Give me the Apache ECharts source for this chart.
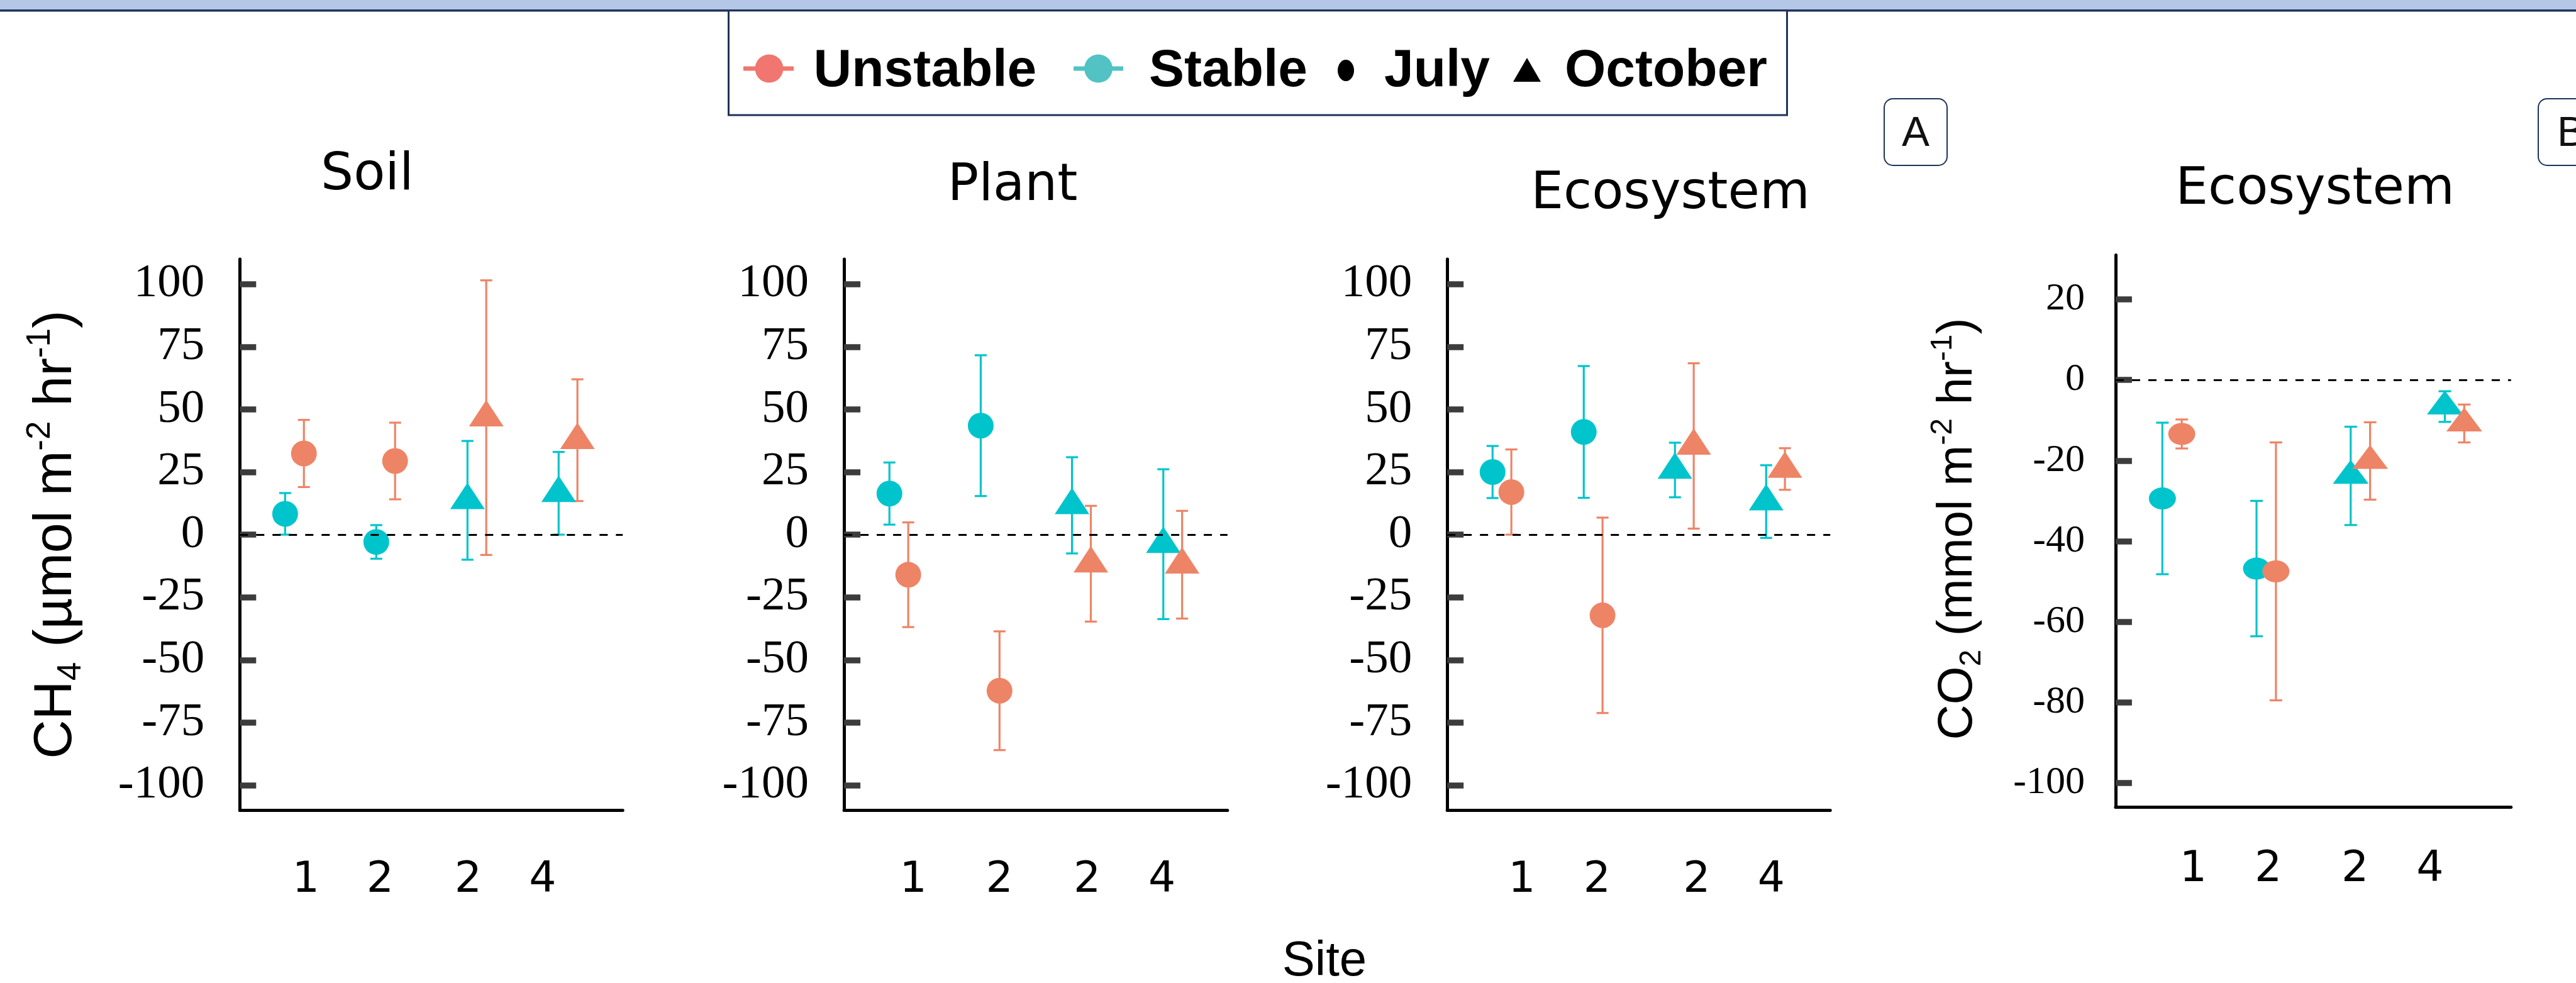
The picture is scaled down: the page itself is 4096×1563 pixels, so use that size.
<!DOCTYPE html>
<html><head><meta charset="utf-8">
<script src="https://cdn.jsdelivr.net/npm/echarts@6/dist/echarts.min.js"></script>
<style>html,body{margin:0;padding:0;background:#fff;overflow:hidden}#c{width:4096px;height:1563px}</style>
</head><body><div id="c"></div>
<script>
// ---------- data ----------
const sites = ['1', '2', '2', '4'];
const months = ['July', 'July', 'October', 'October'];
const panelTitles = ['Soil', 'Plant', 'Ecosystem', 'Ecosystem'];
const ch4Ticks = [-100, -75, -50, -25, 0, 25, 50, 75, 100];
const co2Ticks = [-100, -80, -60, -40, -20, 0, 20];
const legendNames = ['Unstable', 'Stable', 'July', 'October'];

const soilStable = [8.3, -2.9, 13.7, 16.5];
const soilStableErr = [8.3, 6.7, 23.7, 16.5];
const soilUnstable = [32.4, 29.4, 46.7, 37.7];
const soilUnstableErr = [13.4, 15.3, 54.8, 24.3];

const plantStable = [16.4, 43.5, 11.7, -3.8];
const plantStableErr = [12.4, 28.1, 19.2, 29.9];
const plantUnstable = [-16.0, -62.3, -11.6, -12.0];
const plantUnstableErr = [20.9, 23.7, 23.1, 21.5];

const ecoStable = [25.0, 41.0, 25.8, 13.2];
const ecoStableErr = [10.4, 26.3, 10.9, 14.5];
const ecoUnstable = [17.0, -32.2, 35.4, 26.2];
const ecoUnstableErr = [17.0, 39.0, 33.0, 8.3];

const co2Stable = [-29.4, -46.8, -23.8, -6.6];
const co2StableErr = [18.8, 16.8, 12.2, 3.8];
const co2Unstable = [-13.4, -47.5, -20.1, -10.8];
const co2UnstableErr = [3.6, 32.0, 9.6, 4.7];

// ---------- styling / layout ----------
const CYAN = '#00C4CC', ORANGE = '#EE8466';
const NAVY = '#1F3358';
const ELLIPSE = 'path://M0 1A1 1 0 1 0 2 1A1 1 0 1 0 0 1Z';

const panels = [
  { s: soilStable, se: soilStableErr, u: soilUnstable, ue: soilUnstableErr,
    left: 381.3, width: 608.9, top: 411.9, height: 876.4, yMin: -110, yMax: 110, ticks: ch4Ticks,
    labelSize: 75, labelMargin: 56, xLab: [0.125, 0.938, 1.904, 2.722], xMargin: 112,
    circle: 41, tri: [55, 42], cap: 19, titleX: 584, titleY: 280 },
  { s: plantStable, se: plantStableErr, u: plantUnstable, ue: plantUnstableErr,
    left: 1342.1, width: 609.7, top: 411.9, height: 876.4, yMin: -110, yMax: 110, ticks: ch4Ticks,
    labelSize: 75, labelMargin: 56, xLab: [0.158, 1.102, 2.063, 2.882], xMargin: 112,
    circle: 41, tri: [55, 42], cap: 19, titleX: 1610, titleY: 297 },
  { s: ecoStable, se: ecoStableErr, u: ecoUnstable, ue: ecoUnstableErr,
    left: 2301.2, width: 609.0, top: 411.9, height: 876.4, yMin: -110, yMax: 110, ticks: ch4Ticks,
    labelSize: 75, labelMargin: 56, xLab: [0.218, 1.042, 2.135, 2.953], xMargin: 112,
    circle: 41, tri: [55, 42], cap: 19, titleX: 2656, titleY: 310 },
  { s: co2Stable, se: co2StableErr, u: co2Unstable, ue: co2UnstableErr,
    left: 3363.9, width: 628.8, top: 405.5, height: 877.9, yMin: -106, yMax: 31, ticks: co2Ticks,
    labelSize: 62, labelMargin: 49, xLab: [0.224, 1.022, 1.943, 2.740], xMargin: 100,
    circle: [43, 35], tri: [57, 38], cap: 20, titleX: 3681, titleY: 303 }
];
const DODGE = 0.103;

const grids = [], xAxes = [], yAxes = [], series = [];

function errSeries(pi, vals, errs, off, color, cap) {
  return {
    type: 'custom', xAxisIndex: pi, yAxisIndex: pi, silent: true,
    encode: { x: 0, y: [1, 2] },
    data: vals.map((v, i) => [i + off, v - errs[i], v + errs[i]]),
    renderItem: (params, api) => {
      const x = api.value(0);
      const lo = api.coord([x, api.value(1)]);
      const hi = api.coord([x, api.value(2)]);
      const st = { stroke: color, lineWidth: 3.2 };
      const h = cap / 2;
      return { type: 'group', children: [
        { type: 'line', shape: { x1: hi[0], y1: hi[1], x2: lo[0], y2: lo[1] }, style: st },
        { type: 'line', shape: { x1: hi[0] - h, y1: hi[1], x2: hi[0] + h, y2: hi[1] }, style: st },
        { type: 'line', shape: { x1: lo[0] - h, y1: lo[1], x2: lo[0] + h, y2: lo[1] }, style: st }
      ]};
    }
  };
}
function ptSeries(pi, vals, off, color, p) {
  return {
    type: 'scatter', xAxisIndex: pi, yAxisIndex: pi, silent: true,
    itemStyle: { color: color, opacity: 1 },
    data: vals.map((v, i) => {
      const july = months[i] === 'July';
      return {
        value: [i + off, v],
        symbol: july ? (Array.isArray(p.circle) ? ELLIPSE : 'circle') : 'triangle',
        symbolSize: july ? p.circle : p.tri,
        symbolOffset: july ? [0, 0] : [0, -p.tri[1] / 6]
      };
    })
  };
}

panels.forEach((p, pi) => {
  grids.push({ left: p.left, top: p.top, width: p.width, height: p.height, containLabel: false });
  xAxes.push({
    gridIndex: pi, type: 'value', min: -0.6, max: 3.6,
    axisLine: { show: true, onZero: false, lineStyle: { color: '#000', width: 5 } },
    axisTick: { show: false }, splitLine: { show: false },
    axisLabel: {
      show: true, customValues: p.xLab, margin: p.xMargin, verticalAlign: 'middle',
      fontFamily: 'DejaVu Sans', fontSize: 68, color: '#000',
      formatter: (v) => {
        let k = 0, d = 1e9;
        p.xLab.forEach((t, j) => { if (Math.abs(t - v) < d) { d = Math.abs(t - v); k = j; } });
        return sites[k];
      }
    }
  });
  yAxes.push({
    gridIndex: pi, type: 'value', min: p.yMin, max: p.yMax,
    axisLine: { show: true, onZero: false, lineStyle: { color: '#000', width: 5 } },
    axisTick: { show: true, inside: true, length: 26, customValues: p.ticks,
      lineStyle: { color: '#3C3C3C', width: 9.5 } },
    splitLine: { show: false },
    axisLabel: { show: true, customValues: p.ticks, margin: p.labelMargin,
      fontFamily: 'Liberation Serif', fontSize: p.labelSize, color: '#000' }
  });
  series.push(errSeries(pi, p.s, p.se, -DODGE, CYAN, p.cap));
  series.push(ptSeries(pi, p.s, -DODGE, CYAN, p));
  series.push(errSeries(pi, p.u, p.ue, DODGE, ORANGE, p.cap));
  series.push(ptSeries(pi, p.u, DODGE, ORANGE, p));
  series.push({
    type: 'line', xAxisIndex: pi, yAxisIndex: pi, data: [], z: 6, silent: true,
    markLine: { silent: true, symbol: 'none', animation: false, label: { show: false },
      lineStyle: { color: '#000', width: 3.2, type: [13, 13], opacity: 1 }, data: [{ yAxis: 0 }] }
  });
});

// ---------- graphic: band, legend, titles, labels ----------
const graphic = [
  { type: 'rect', shape: { x: 0, y: 0, width: 4096, height: 16 }, style: { fill: '#B4C7E7' }, silent: true },
  { type: 'rect', shape: { x: 0, y: 15, width: 4096, height: 3.5 }, style: { fill: NAVY }, silent: true },
  { type: 'rect', shape: { x: 1158.5, y: 16.7, width: 1683, height: 166.4 },
    style: { fill: '#fff', stroke: NAVY, lineWidth: 3 }, silent: true },
  // Unstable icon
  { type: 'line', shape: { x1: 1182, y1: 109, x2: 1262, y2: 109 }, style: { stroke: '#F0766F', lineWidth: 7 } },
  { type: 'circle', shape: { cx: 1223, cy: 109, r: 22.5 }, style: { fill: '#F0766F' } },
  { type: 'text', x: 1293.5, y: 114, style: { text: legendNames[0], fontFamily: 'Liberation Sans', fontWeight: 'bold', fontSize: 84, fill: '#000', align: 'left', verticalAlign: 'middle' } },
  // Stable icon
  { type: 'line', shape: { x1: 1707, y1: 109, x2: 1786, y2: 109 }, style: { stroke: '#52C2C4', lineWidth: 7 } },
  { type: 'circle', shape: { cx: 1746.5, cy: 109, r: 22.5 }, style: { fill: '#52C2C4' } },
  { type: 'text', x: 1827, y: 114, style: { text: legendNames[1], fontFamily: 'Liberation Sans', fontWeight: 'bold', fontSize: 84, fill: '#000', align: 'left', verticalAlign: 'middle' } },
  // July
  { type: 'ellipse', shape: { cx: 2140, cy: 112, rx: 13, ry: 17 }, style: { fill: '#000' } },
  { type: 'text', x: 2201, y: 114, style: { text: legendNames[2], fontFamily: 'Liberation Sans', fontWeight: 'bold', fontSize: 84, fill: '#000', align: 'left', verticalAlign: 'middle' } },
  // October
  { type: 'polygon', shape: { points: [[2428, 92], [2450, 130], [2406, 130]] }, style: { fill: '#000' } },
  { type: 'text', x: 2488, y: 114, style: { text: legendNames[3], fontFamily: 'Liberation Sans', fontWeight: 'bold', fontSize: 84, fill: '#000', align: 'left', verticalAlign: 'middle' } },
  // A / B boxes
  { type: 'rect', shape: { x: 2996, y: 157, width: 100, height: 106, r: 14 }, style: { fill: '#fff', stroke: NAVY, lineWidth: 2 } },
  { type: 'text', x: 3046, y: 214, style: { text: 'A', fontFamily: 'Liberation Sans', fontSize: 66, fill: '#111', align: 'center', verticalAlign: 'middle' } },
  { type: 'rect', shape: { x: 4036, y: 157, width: 100, height: 106, r: 14 }, style: { fill: '#fff', stroke: NAVY, lineWidth: 2 } },
  { type: 'text', x: 4066, y: 214, style: { text: 'B', fontFamily: 'Liberation Sans', fontSize: 66, fill: '#111', align: 'left', verticalAlign: 'middle' } },
  // Site
  { type: 'text', x: 2106, y: 1529, style: { text: 'Site', fontFamily: 'Liberation Sans', fontSize: 78, fill: '#000', align: 'center', verticalAlign: 'middle' } },
  // y axis titles
  { type: 'text', x: 89, y: 850, rotation: Math.PI / 2,
    style: { text: '{a|CH}{s|4}{a| (µmol m}{p|-2}{a| hr}{p|-1}{a|)}', align: 'center', verticalAlign: 'middle',
      rich: {
        a: { fontFamily: 'Liberation Sans', fontSize: 86, lineHeight: 102, fill: '#000' },
        s: { fontFamily: 'Liberation Sans', fontSize: 53, lineHeight: 53, verticalAlign: 'bottom', fill: '#000' },
        p: { fontFamily: 'Liberation Sans', fontSize: 53, lineHeight: 53, verticalAlign: 'top', fill: '#000' }
      } } },
  { type: 'text', x: 3113, y: 841, rotation: Math.PI / 2,
    style: { text: '{a|CO}{s|2}{a| (mmol m}{p|-2}{a| hr}{p|-1}{a|)}', align: 'center', verticalAlign: 'middle',
      rich: {
        a: { fontFamily: 'Liberation Sans', fontSize: 78, lineHeight: 94, fill: '#000' },
        s: { fontFamily: 'Liberation Sans', fontSize: 48, lineHeight: 48, verticalAlign: 'bottom', fill: '#000' },
        p: { fontFamily: 'Liberation Sans', fontSize: 48, lineHeight: 48, verticalAlign: 'top', fill: '#000' }
      } } }
];
panels.forEach((p, pi) => {
  graphic.push({ type: 'text', x: p.titleX, y: p.titleY,
    style: { text: panelTitles[pi], fontFamily: 'DejaVu Sans', fontSize: 82, fill: '#000', align: 'center', verticalAlign: 'middle' } });
});

const chart = echarts.init(document.getElementById('c'), null, { renderer: 'canvas' });
chart.setOption({
  animation: false,
  backgroundColor: '#fff',
  grid: grids, xAxis: xAxes, yAxis: yAxes, series: series, graphic: graphic
});
</script></body></html>
